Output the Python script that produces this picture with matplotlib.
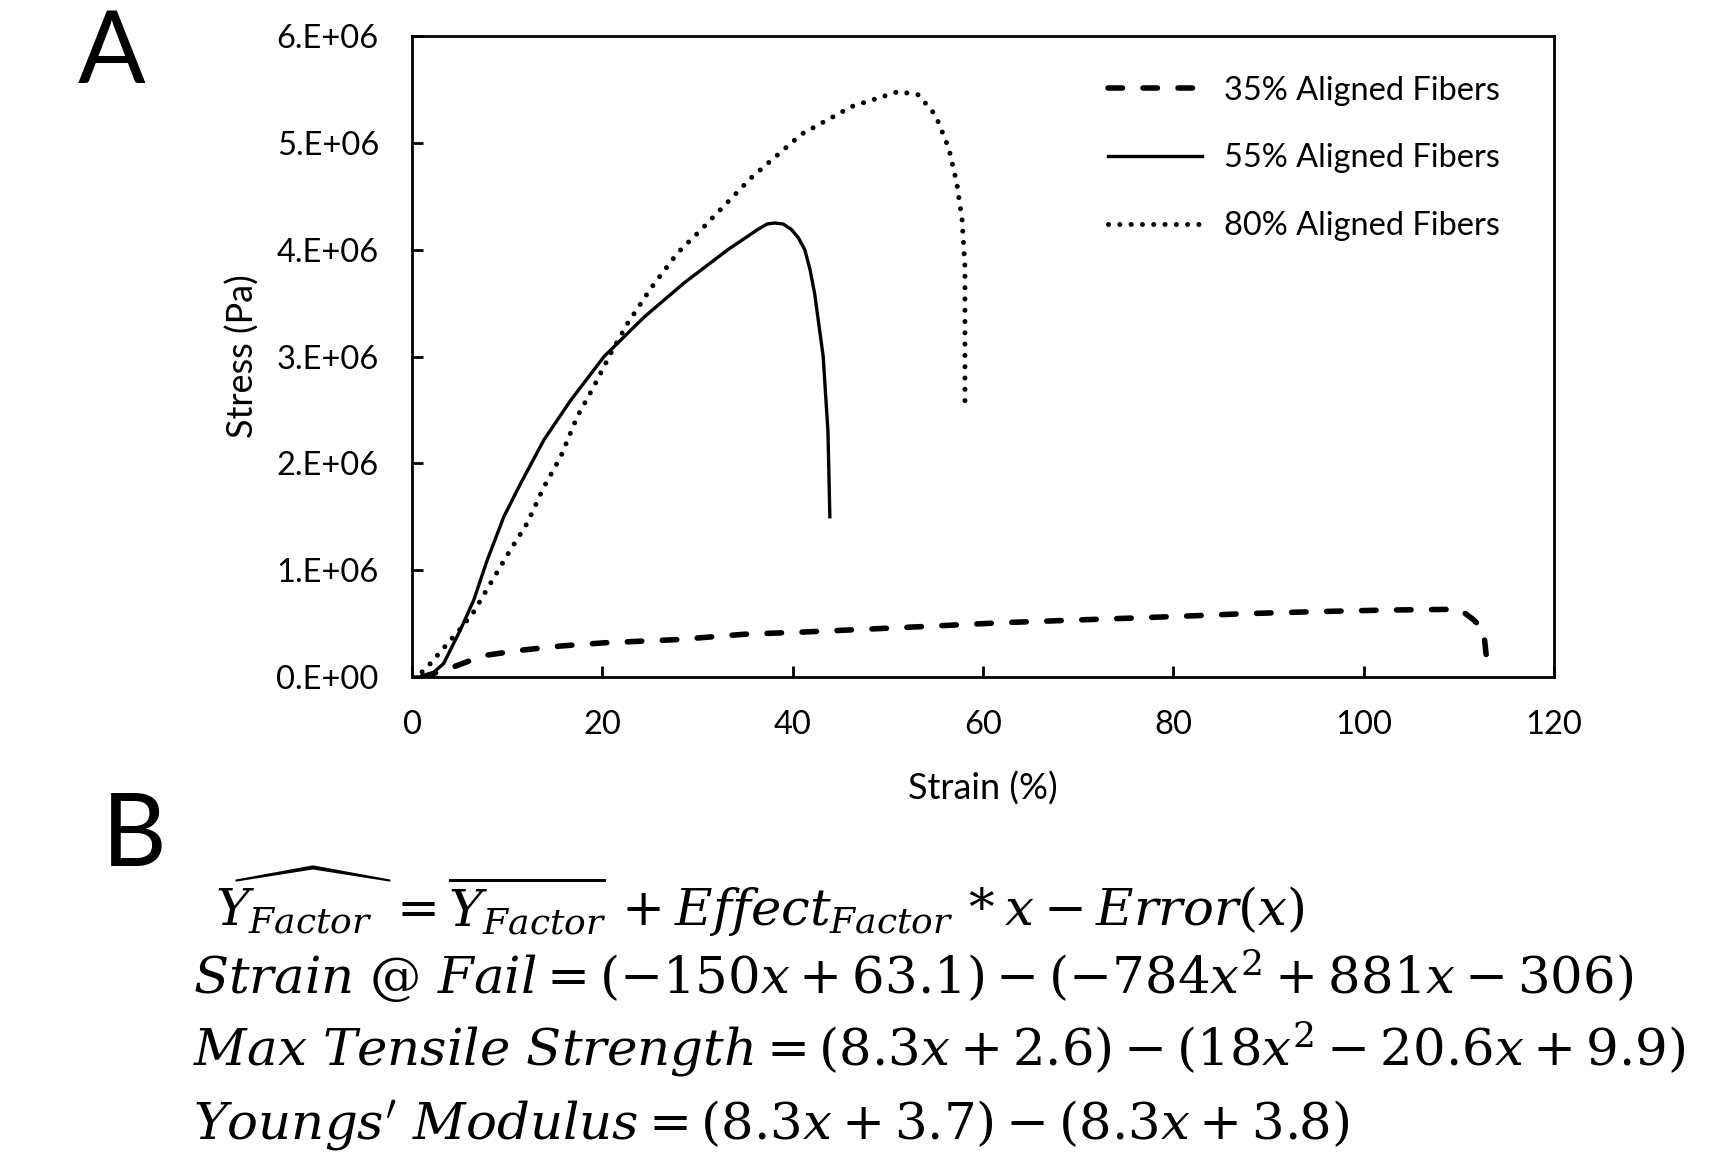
import numpy as np
import matplotlib.pyplot as plt

plt.rcParams['font.family'] = ['Lato', 'DejaVu Sans']
plt.rcParams['mathtext.fontset'] = 'dejavuserif'

# stress-strain curves (strain in %, stress in MPa -> Pa below)
strain_35 = [1.0, 3.3, 7.5, 11.4, 15.6, 20.2, 27.9, 34.9, 40.9, 47.2, 54.6, 62.0, 69.4, 76.8, 82.7,
             87.3, 94.7, 102.1, 109.1, 110.1, 111.5, 112.6, 112.9]
stress_35 = [0.0, 0.06, 0.2, 0.25, 0.29, 0.32, 0.35, 0.40, 0.42, 0.445, 0.476, 0.508, 0.532, 0.555, 0.575,
             0.592, 0.611, 0.626, 0.633, 0.633, 0.54, 0.445, 0.195]

strain_55 = [0.3, 1.7, 3.3, 5.06, 6.47, 7.87, 9.63, 11.39, 13.85, 16.66, 20.17, 24.39, 28.6, 33.18,
             36.34, 37.3, 38.1, 39.0, 39.85, 40.6, 41.26, 41.8, 42.3, 43.2, 43.7, 43.9]
stress_55 = [0.0, 0.0, 0.125, 0.44, 0.72, 1.09, 1.5, 1.81, 2.22, 2.59, 3.0, 3.37, 3.69, 4.0,
             4.19, 4.24, 4.25, 4.24, 4.19, 4.11, 4.0, 3.82, 3.59, 3.0, 2.3, 1.5]

strain_80 = [0.0, 0.84, 1.9, 3.3, 5.06, 6.47, 8.22, 10.33, 12.09, 13.85, 15.6, 17.36, 19.1, 20.87,
             22.64, 25.1, 27.9, 30.4, 35.6, 40.9, 46.2, 51.1, 53.2, 55.0, 56.4, 57.25, 57.8, 58.1, 58.1]
stress_80 = [0.0, 0.03, 0.125, 0.27, 0.45, 0.61, 0.875, 1.19, 1.44, 1.78, 2.06, 2.44, 2.72, 3.03,
             3.31, 3.64, 3.97, 4.19, 4.67, 5.08, 5.34, 5.48, 5.45, 5.26, 4.95, 4.62, 4.28, 3.84, 2.5]

labels = ["35% Aligned Fibers", "55% Aligned Fibers", "80% Aligned Fibers"]
x_ticks = [0, 20, 40, 60, 80, 100, 120]
y_ticks = [0, 1e6, 2e6, 3e6, 4e6, 5e6, 6e6]
y_tick_labels = ["0.E+00", "1.E+06", "2.E+06", "3.E+06", "4.E+06", "5.E+06", "6.E+06"]

equations = [
    r"$\widehat{Y_{Factor}}\ = \overline{Y_{Factor}}\, + Effect_{Factor}\, * x - Error(x)$",
    r"$Strain\ @\ Fail = (-150x + 63.1) - (-784x^2 + 881x - 306)$",
    r"$Max\ Tensile\ Strength = (8.3x + 2.6) - (18x^2 - 20.6x + 9.9)$",
    r"$Youngs'\ Modulus = (8.3x + 3.7) - (8.3x + 3.8)$",
]

fig = plt.figure(figsize=(17.29, 11.62), dpi=100)
ax = fig.add_axes([0.2384, 0.4174, 0.6603, 0.5516])

ax.plot(strain_35, np.array(stress_35) * 1e6, color="black", lw=4, linestyle=(0, (2.6, 3.7)),
        dash_capstyle="round", label=labels[0])
ax.plot(strain_55, np.array(stress_55) * 1e6, color="black", lw=2.4, linestyle="-",
        solid_joinstyle="round", label=labels[1])
ax.plot(strain_80, np.array(stress_80) * 1e6, color="black", lw=3.6, linestyle=(0, (0.01, 2.25)),
        dash_capstyle="round", label=labels[2])

ax.set_xlim(0, 120)
ax.set_ylim(0, 6e6)
ax.set_xticks(x_ticks)
ax.set_yticks(y_ticks)
ax.set_yticklabels(y_tick_labels)
ax.tick_params(direction="in", length=8, width=2, labelsize=23.5, pad=24)
for s in ax.spines.values():
    s.set_linewidth(2)
ax.set_xlabel("Strain (%)", fontsize=26)
ax.set_ylabel("Stress (Pa)", fontsize=26)
ax.xaxis.set_label_coords(0.5, -0.148)
ax.yaxis.set_label_coords(-0.134, 0.5)

ax.legend(loc="upper right", frameon=False, fontsize=23.4, handlelength=2.9, handletextpad=0.68,
          labelspacing=1.16, borderpad=0, borderaxespad=0, bbox_to_anchor=(0.9527, 0.938))

fig.text(0.0648, 0.9535, "A", fontsize=72, va="center", ha="center")
fig.text(0.0775, 0.279, "B", fontsize=72, va="center", ha="center")

eq_y = [0.224, 0.160, 0.097, 0.032]
eq_x = [0.1244, 0.1116, 0.1116, 0.1116]
for i, eq in enumerate(equations):
    fig.text(eq_x[i], eq_y[i], eq, fontsize=37, va="center", ha="left")

fig.savefig("out.png", dpi=100)
